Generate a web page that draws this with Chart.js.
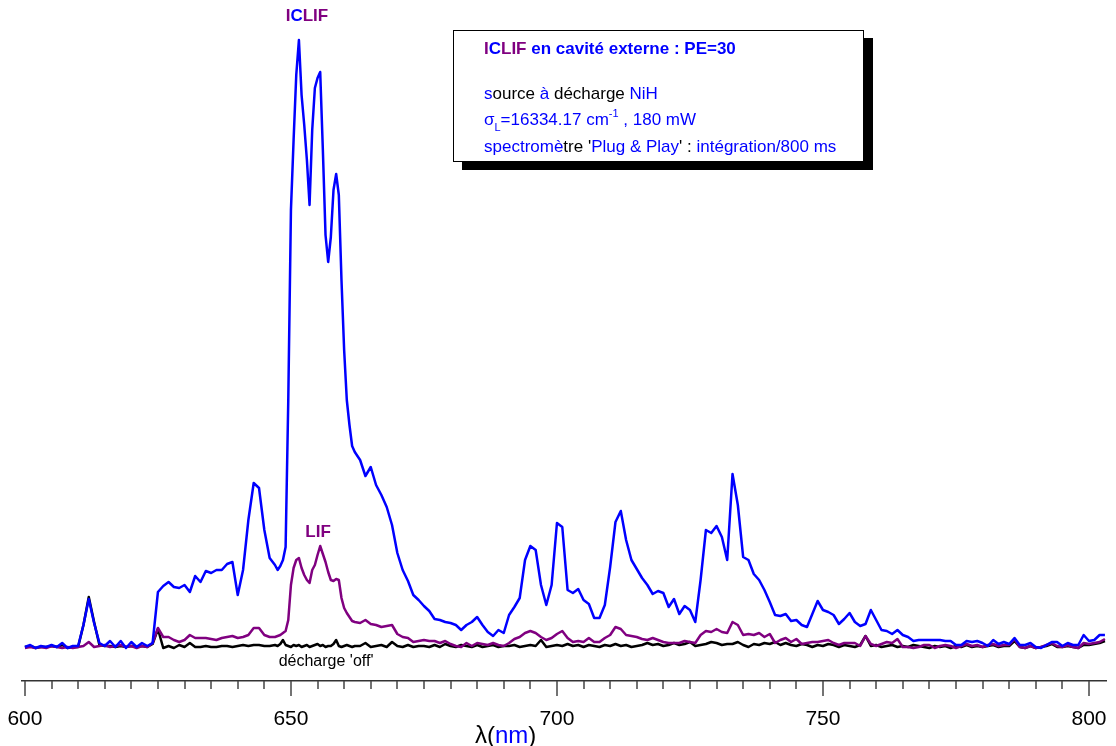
<!DOCTYPE html>
<html>
<head>
<meta charset="utf-8">
<script src="https://cdn.jsdelivr.net/npm/chart.js@4.4.1/dist/chart.umd.min.js"></script>
<style>
  html, body { margin: 0; padding: 0; background: #fff; }
  canvas { display: block; }
</style>
</head>
<body>
<canvas id="spectre" width="1116" height="746"></canvas>
<script>
// longueurs d'onde (nm)
var wl = [
  600,601,602,603,604,605,606,607,608,609,
  610,611,612,613,614,615,616,617,618,619,
  620,621,622,623,624,625,626,627,628,629,
  630,631,632,633,634,635,636,637,638,639,
  640,641,642,643,644,645,646,647,
  647.5,648,648.5,649,649.5,650,650.5,651,651.5,652,
  652.5,653,653.5,654,654.5,655,655.5,656,656.5,657,
  657.5,658,658.5,659,659.5,660,660.5,661,661.5,662,
  663,664,665,666,667,668,669,670,671,672,
  673,674,675,676,677,678,679,680,681,682,
  683,684,685,686,687,688,689,690,691,692,
  693,694,695,696,697,698,699,700,701,702,
  703,704,705,706,707,708,709,710,711,712,
  713,714,715,716,717,718,719,720,721,722,
  723,724,725,726,727,728,729,730,731,732,
  733,734,735,736,737,738,739,740,741,742,
  743,744,745,746,747,748,749,750,751,752,
  753,754,755,756,757,758,759,760,761,762,
  763,764,765,766,767,768,769,770,771,772,
  773,774,775,776,777,778,779,780,781,782,
  783,784,785,786,787,788,789,790,791,792,
  793,794,795,796,797,798,799,800,801,802,
  803
];

// ICLIF (bleu)
var iclif = [
  3,5,2,4,3,5,3,7,2,4,
  4,25,51,27,7,4,9,3,9,2,
  8,3,7,4,7,58,64,68,63,62,
  65,58,74,68,79,77,80,80,86,88,
  55,80,130,167,162,120,92,85,
  80,84,90,103,250,440,510,575,610,555,
  525,490,445,520,562,572,578,500,415,388,
  413,460,476,455,370,300,250,225,204,198,
  190,174,183,165,155,143,125,97,80,69,
  55,50,44,39,31,30,28,27,25,20,
  25,28,33,25,18,14,20,17,35,43,
  52,90,104,100,65,45,65,127,123,60,
  57,61,50,46,32,32,45,83,128,139,
  110,90,81,72,65,56,59,57,43,51,
  36,44,40,28,70,120,117,124,113,90,
  176,145,93,90,76,70,60,48,35,34,
  36,29,30,25,23,36,49,40,38,35,
  26,31,37,28,24,26,40,30,20,19,
  16,20,15,13,9,10,10,10,10,10,
  9,9,5,5,9,8,9,7,4,10,
  6,8,6,12,5,5,7,3,2,5,
  8,8,4,7,5,5,15,9,10,15,
  15
];

// LIF (violet)
var lif = [
  2,3,2,3,2,4,3,2,3,2,
  3,4,8,3,4,5,3,4,5,3,
  4,2,4,3,7,22,13,13,10,8,
  10,15,12,12,12,11,10,12,13,14,
  12,13,15,22,22,15,13,13,
  14,15,17,19,30,65,82,90,92,82,
  75,70,67,80,85,95,104,96,88,78,
  70,69,71,70,52,42,37,33,29,28,
  27,30,26,25,23,24,25,16,13,12,
  8,9,10,9,9,7,9,6,4,3,
  7,4,7,6,5,7,5,4,7,11,
  13,17,19,17,13,10,12,16,19,12,
  8,9,8,12,8,8,12,15,23,21,
  15,14,13,11,10,12,10,8,7,7,
  7,9,8,7,15,19,18,21,18,17,
  28,25,15,16,15,17,13,16,7,10,
  12,8,11,6,7,8,8,9,10,7,
  5,7,7,7,4,14,6,4,6,8,
  7,11,3,3,2,3,5,5,2,4,
  5,4,2,4,6,4,5,3,5,6,
  4,5,5,11,3,2,4,2,3,5,
  7,4,3,5,3,2,7,6,7,8,
  11
];

// décharge 'off' (noir)
var off = [
  3,4,2,3,3,4,3,5,2,3,
  3,25,53,28,5,4,4,3,4,3,
  4,3,4,3,6,21,2,4,2,5,
  3,7,3,3,4,3,3,4,4,3,
  4,5,4,5,5,4,4,5,
  4,6,10,5,4,3,5,4,5,3,
  4,5,3,4,5,6,4,5,3,4,
  4,6,10,4,3,4,5,4,3,4,
  4,7,3,4,5,3,8,4,3,5,
  3,4,4,3,5,3,6,4,3,5,
  4,3,5,3,4,5,3,4,4,5,
  3,4,5,4,10,3,4,5,4,6,
  4,5,3,5,4,3,5,4,6,4,
  5,3,4,5,7,5,6,4,5,7,
  5,6,8,4,5,6,8,7,5,6,
  6,8,5,3,6,5,7,6,8,5,
  7,5,4,6,5,3,5,4,6,5,
  3,5,4,3,5,14,4,5,3,4,
  5,3,4,3,5,4,3,2,4,3,
  4,2,4,3,5,3,4,3,4,5,
  3,4,4,9,3,2,4,2,3,4,
  6,3,3,4,3,2,5,5,6,7,
  9
];

var majorTicks = [600, 650, 700, 750, 800];

var FONT = '"Liberation Sans", Arial, sans-serif';
var BLUE = '#0000ff', PURPLE = '#800080', BLACK = '#000000';

function pts(vals) {
  return wl.map(function(w, i) { return { x: w, y: vals[i] }; });
}

// draws coloured text pieces one after another
function runs(ctx, x, y, parts) {
  parts.forEach(function(p) {
    ctx.font = p.font;
    ctx.fillStyle = p.color;
    ctx.fillText(p.text, x, y + (p.dy || 0));
    x += ctx.measureText(p.text).width;
  });
  return x;
}
function runsWidth(ctx, parts) {
  var w = 0;
  parts.forEach(function(p) { ctx.font = p.font; w += ctx.measureText(p.text).width; });
  return w;
}
function runsCentered(ctx, cx, y, parts) {
  runs(ctx, cx - runsWidth(ctx, parts) / 2, y, parts);
}

var annotations = {
  id: 'annotations',
  afterDraw: function(chart) {
    var ctx = chart.ctx;
    var xs = chart.scales.x;
    var bottom = chart.chartArea.bottom;
    ctx.save();
    ctx.textBaseline = 'alphabetic';
    ctx.textAlign = 'left';

    // graduations
    ctx.strokeStyle = '#444';
    ctx.lineWidth = 1.5;
    for (var v = 600; v <= 800; v += 5) {
      var px = Math.round(xs.getPixelForValue(v));
      ctx.beginPath();
      ctx.moveTo(px, bottom);
      ctx.lineTo(px, bottom + (v % 50 === 0 ? 15 : 8));
      ctx.stroke();
    }

    // axis title
    var big = '24px ' + FONT;
    runs(ctx, 475, 743, [
      { text: 'λ(', font: big, color: BLACK },
      { text: 'nm', font: big, color: BLUE },
      { text: ')', font: big, color: BLACK }
    ]);

    // curve labels
    var bold = 'bold 17px ' + FONT;
    runsCentered(ctx, xs.getPixelForValue(653), 21, [
      { text: 'I', font: bold, color: PURPLE },
      { text: 'C', font: bold, color: BLUE },
      { text: 'LIF', font: bold, color: PURPLE }
    ]);
    runsCentered(ctx, xs.getPixelForValue(655.1), 537, [
      { text: 'LIF', font: bold, color: PURPLE }
    ]);
    runsCentered(ctx, xs.getPixelForValue(656.6), 666, [
      { text: "décharge 'off'", font: '16px ' + FONT, color: BLACK }
    ]);

    // legend box with shadow
    ctx.fillStyle = '#000';
    ctx.fillRect(462, 38, 411, 132);
    ctx.fillStyle = '#fff';
    ctx.fillRect(453, 30, 410, 131);
    ctx.strokeStyle = '#000';
    ctx.lineWidth = 1;
    ctx.strokeRect(453.5, 30.5, 410, 131);

    var reg = '17px ' + FONT, small = '11px ' + FONT;
    var lx = 484;
    runs(ctx, lx, 54, [
      { text: 'I', font: bold, color: PURPLE },
      { text: 'C', font: bold, color: BLUE },
      { text: 'LIF', font: bold, color: PURPLE },
      { text: ' en cavité externe : PE=30', font: bold, color: BLUE }
    ]);
    runs(ctx, lx, 99, [
      { text: 's', font: reg, color: BLUE },
      { text: 'ource ', font: reg, color: BLACK },
      { text: 'à', font: reg, color: BLUE },
      { text: ' décharge ', font: reg, color: BLACK },
      { text: 'NiH', font: reg, color: BLUE }
    ]);
    runs(ctx, lx, 125, [
      { text: 'σ', font: reg, color: BLUE },
      { text: 'L', font: small, color: BLUE, dy: 6 },
      { text: '=16334.17 cm', font: reg, color: BLUE },
      { text: '-1', font: small, color: BLUE, dy: -8 },
      { text: ' , 180 mW', font: reg, color: BLUE }
    ]);
    runs(ctx, lx, 152, [
      { text: 'spectromè', font: reg, color: BLUE },
      { text: "tre '", font: reg, color: BLACK },
      { text: 'Plug & Play', font: reg, color: BLUE },
      { text: "' : ", font: reg, color: BLACK },
      { text: 'intégration/800 ms', font: reg, color: BLUE }
    ]);
    ctx.restore();
  }
};

Chart.defaults.font.family = FONT;

new Chart(document.getElementById('spectre'), {
  type: 'line',
  data: {
    datasets: [
      { label: 'ICLIF', data: pts(iclif), borderColor: BLUE, borderWidth: 2.5 },
      { label: 'LIF', data: pts(lif), borderColor: PURPLE, borderWidth: 2.5 },
      { label: "décharge 'off'", data: pts(off), borderColor: BLACK, borderWidth: 2.5 }
    ]
  },
  options: {
    responsive: false,
    animation: false,
    events: [],
    layout: { padding: { left: 22, right: 10, top: 0, bottom: 0 } },
    elements: {
      point: { radius: 0 },
      line: { tension: 0, borderJoinStyle: 'round', fill: false }
    },
    plugins: { legend: { display: false }, tooltip: { enabled: false } },
    scales: {
      x: {
        type: 'linear',
        position: 'bottom',
        min: 599.45,
        max: 803.2,
        afterBuildTicks: function(s) {
          s.ticks = majorTicks.map(function(v) { return { value: v }; });
        },
        afterFit: function(s) {
          s.height = 65;
          s.paddingLeft = 0;
          s.paddingRight = 0;
        },
        grid: { display: true, drawOnChartArea: false, drawTicks: true, tickLength: 15, color: 'rgba(0,0,0,0)' },
        border: { display: true, color: '#333', width: 1.5 },
        ticks: {
          color: '#000',
          font: { size: 21 },
          padding: 11,
          maxRotation: 0,
          autoSkip: false,
          callback: function(v) { return v; }
        }
      },
      y: {
        display: false,
        min: -31,
        max: 650
      }
    }
  },
  plugins: [annotations]
});
</script>
</body>
</html>
